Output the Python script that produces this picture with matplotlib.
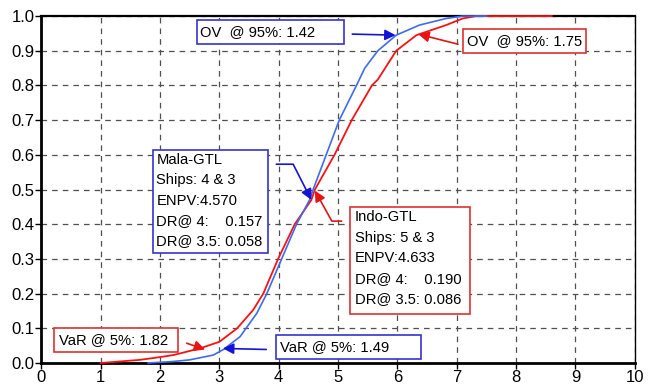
import numpy as np
import matplotlib
matplotlib.use('Agg')
import matplotlib.pyplot as plt
from matplotlib.patches import Rectangle
from matplotlib.ticker import FormatStrFormatter

plt.rcParams['font.family'] = ['Liberation Sans', 'DejaVu Sans']

# cumulative distribution of ENPV, Mala-GTL (blue) and Indo-GTL (red)
mala_x = [1.8, 2.2, 2.5, 2.9, 3.07, 3.35, 3.45, 3.63, 3.8, 4.05, 4.3, 4.52, 4.58,
          4.8, 5.02, 5.31, 5.45, 5.67, 5.98, 6.37, 6.82, 7.1, 7.5]
mala_y = [0.0, 0.004, 0.009, 0.023, 0.039, 0.076, 0.1, 0.143, 0.2, 0.3, 0.4, 0.47, 0.5,
          0.6, 0.7, 0.8, 0.85, 0.9, 0.945, 0.974, 0.993, 1.0, 1.0]

indo_x = [1.0, 1.66, 2.0, 2.23, 2.67, 3.0, 3.3, 3.57, 3.74, 3.99, 4.27, 4.55, 4.61,
          4.94, 5.23, 5.57, 5.67, 5.98, 6.32, 6.82, 7.1, 7.33, 8.6]
indo_y = [0.0, 0.009, 0.017, 0.023, 0.042, 0.061, 0.1, 0.153, 0.2, 0.3, 0.4, 0.47, 0.5,
          0.6, 0.7, 0.8, 0.817, 0.9, 0.945, 0.974, 0.993, 1.0, 1.0]

mala_text = ['Mala-GTL', 'Ships: 4 & 3', 'ENPV:4.570', 'DR@ 4:    0.157', 'DR@ 3.5: 0.058']
indo_text = ['Indo-GTL', 'Ships: 5 & 3', 'ENPV:4.633', 'DR@ 4:    0.190', 'DR@ 3.5: 0.086']

x_ticks = np.arange(0, 11, 1)
y_ticks = np.arange(0, 1.01, 0.1)

BLUE_LINE = '#3b6cf2'
RED_LINE = '#ff1010'
BLUE_ARR = '#1414d8'
RED_ARR = '#e81414'
BLUE_BOX = '#3434d4'
RED_BOX = '#e03030'

fig = plt.figure(figsize=(6.48, 3.92), dpi=100)
ax = fig.add_axes([0.0637, 0.074, 0.916, 0.885])

ax.plot(indo_x, indo_y, color=RED_LINE, lw=1.3, clip_on=False, zorder=3)
ax.plot(mala_x, mala_y, color=BLUE_LINE, lw=1.2, clip_on=False, zorder=3)

ax.set_xlim(0, 10)
ax.set_ylim(0, 1)
ax.set_xticks(x_ticks)
ax.set_yticks(y_ticks)
ax.yaxis.set_major_formatter(FormatStrFormatter('%.1f'))
ax.tick_params(direction='out', length=4, width=1, labelsize=12, pad=1)
ax.grid(True, color='#505050', linestyle=(0, (4.5, 4)), lw=0.9, zorder=1)
ax.set_axisbelow(True)

for side in ['left', 'bottom']:
    ax.spines[side].set_linewidth(2.0)
ax.spines['top'].set_linewidth(1.6)
ax.spines['right'].set_linewidth(1.0)


def box(x0, y0, x1, y1, color):
    ax.add_patch(Rectangle((x0, y0), x1 - x0, y1 - y0, facecolor='white',
                           edgecolor=color, lw=1.2, zorder=5))


def arrow(tail, head, color, conn='arc3'):
    ax.annotate('', xy=head, xytext=tail,
                arrowprops=dict(arrowstyle='-|>', color=color, lw=1.2,
                                mutation_scale=16, shrinkA=0, shrinkB=0,
                                connectionstyle=conn),
                zorder=6)


fs = 10.6
# OV @ 95% labels
box(2.63, 0.919, 5.10, 0.990, BLUE_BOX)
ax.text(2.68, 0.955, 'OV  @ 95%: 1.42', fontsize=fs, va='center', zorder=6)
arrow((5.24, 0.948), (5.97, 0.945), BLUE_ARR)

box(7.10, 0.893, 9.18, 0.962, RED_BOX)
ax.text(7.17, 0.928, 'OV  @ 95%: 1.75', fontsize=fs, va='center', zorder=6)
arrow((7.02, 0.919), (6.35, 0.948), RED_ARR)

# VaR @ 5% labels
box(0.214, 0.0326, 2.31, 0.100, RED_BOX)
ax.text(0.30, 0.066, 'VaR @ 5%: 1.82', fontsize=fs, va='center', zorder=6)
arrow((2.45, 0.057), (2.76, 0.039), RED_ARR)

box(3.95, 0.0107, 6.39, 0.0807, BLUE_BOX)
ax.text(4.03, 0.046, 'VaR @ 5%: 1.49', fontsize=fs, va='center', zorder=6)
arrow((3.79, 0.039), (3.06, 0.042), BLUE_ARR)

# summary boxes
box(1.875, 0.316, 3.82, 0.614, BLUE_BOX)
for i, line in enumerate(mala_text):
    ax.text(1.94, 0.585 - i * 0.0585, line, fontsize=fs, va='center', zorder=6)
arrow((3.96, 0.573), (4.55, 0.47), BLUE_ARR, 'angle,angleA=0,angleB=117,rad=0')

box(5.20, 0.141, 7.22, 0.450, RED_BOX)
for i, line in enumerate(indo_text):
    ax.text(5.28, 0.42 - i * 0.059, line, fontsize=fs, va='center', zorder=6)
arrow((5.06, 0.409), (4.61, 0.497), RED_ARR, 'angle,angleA=0,angleB=-61,rad=0')

fig.savefig('out.png', dpi=100)
